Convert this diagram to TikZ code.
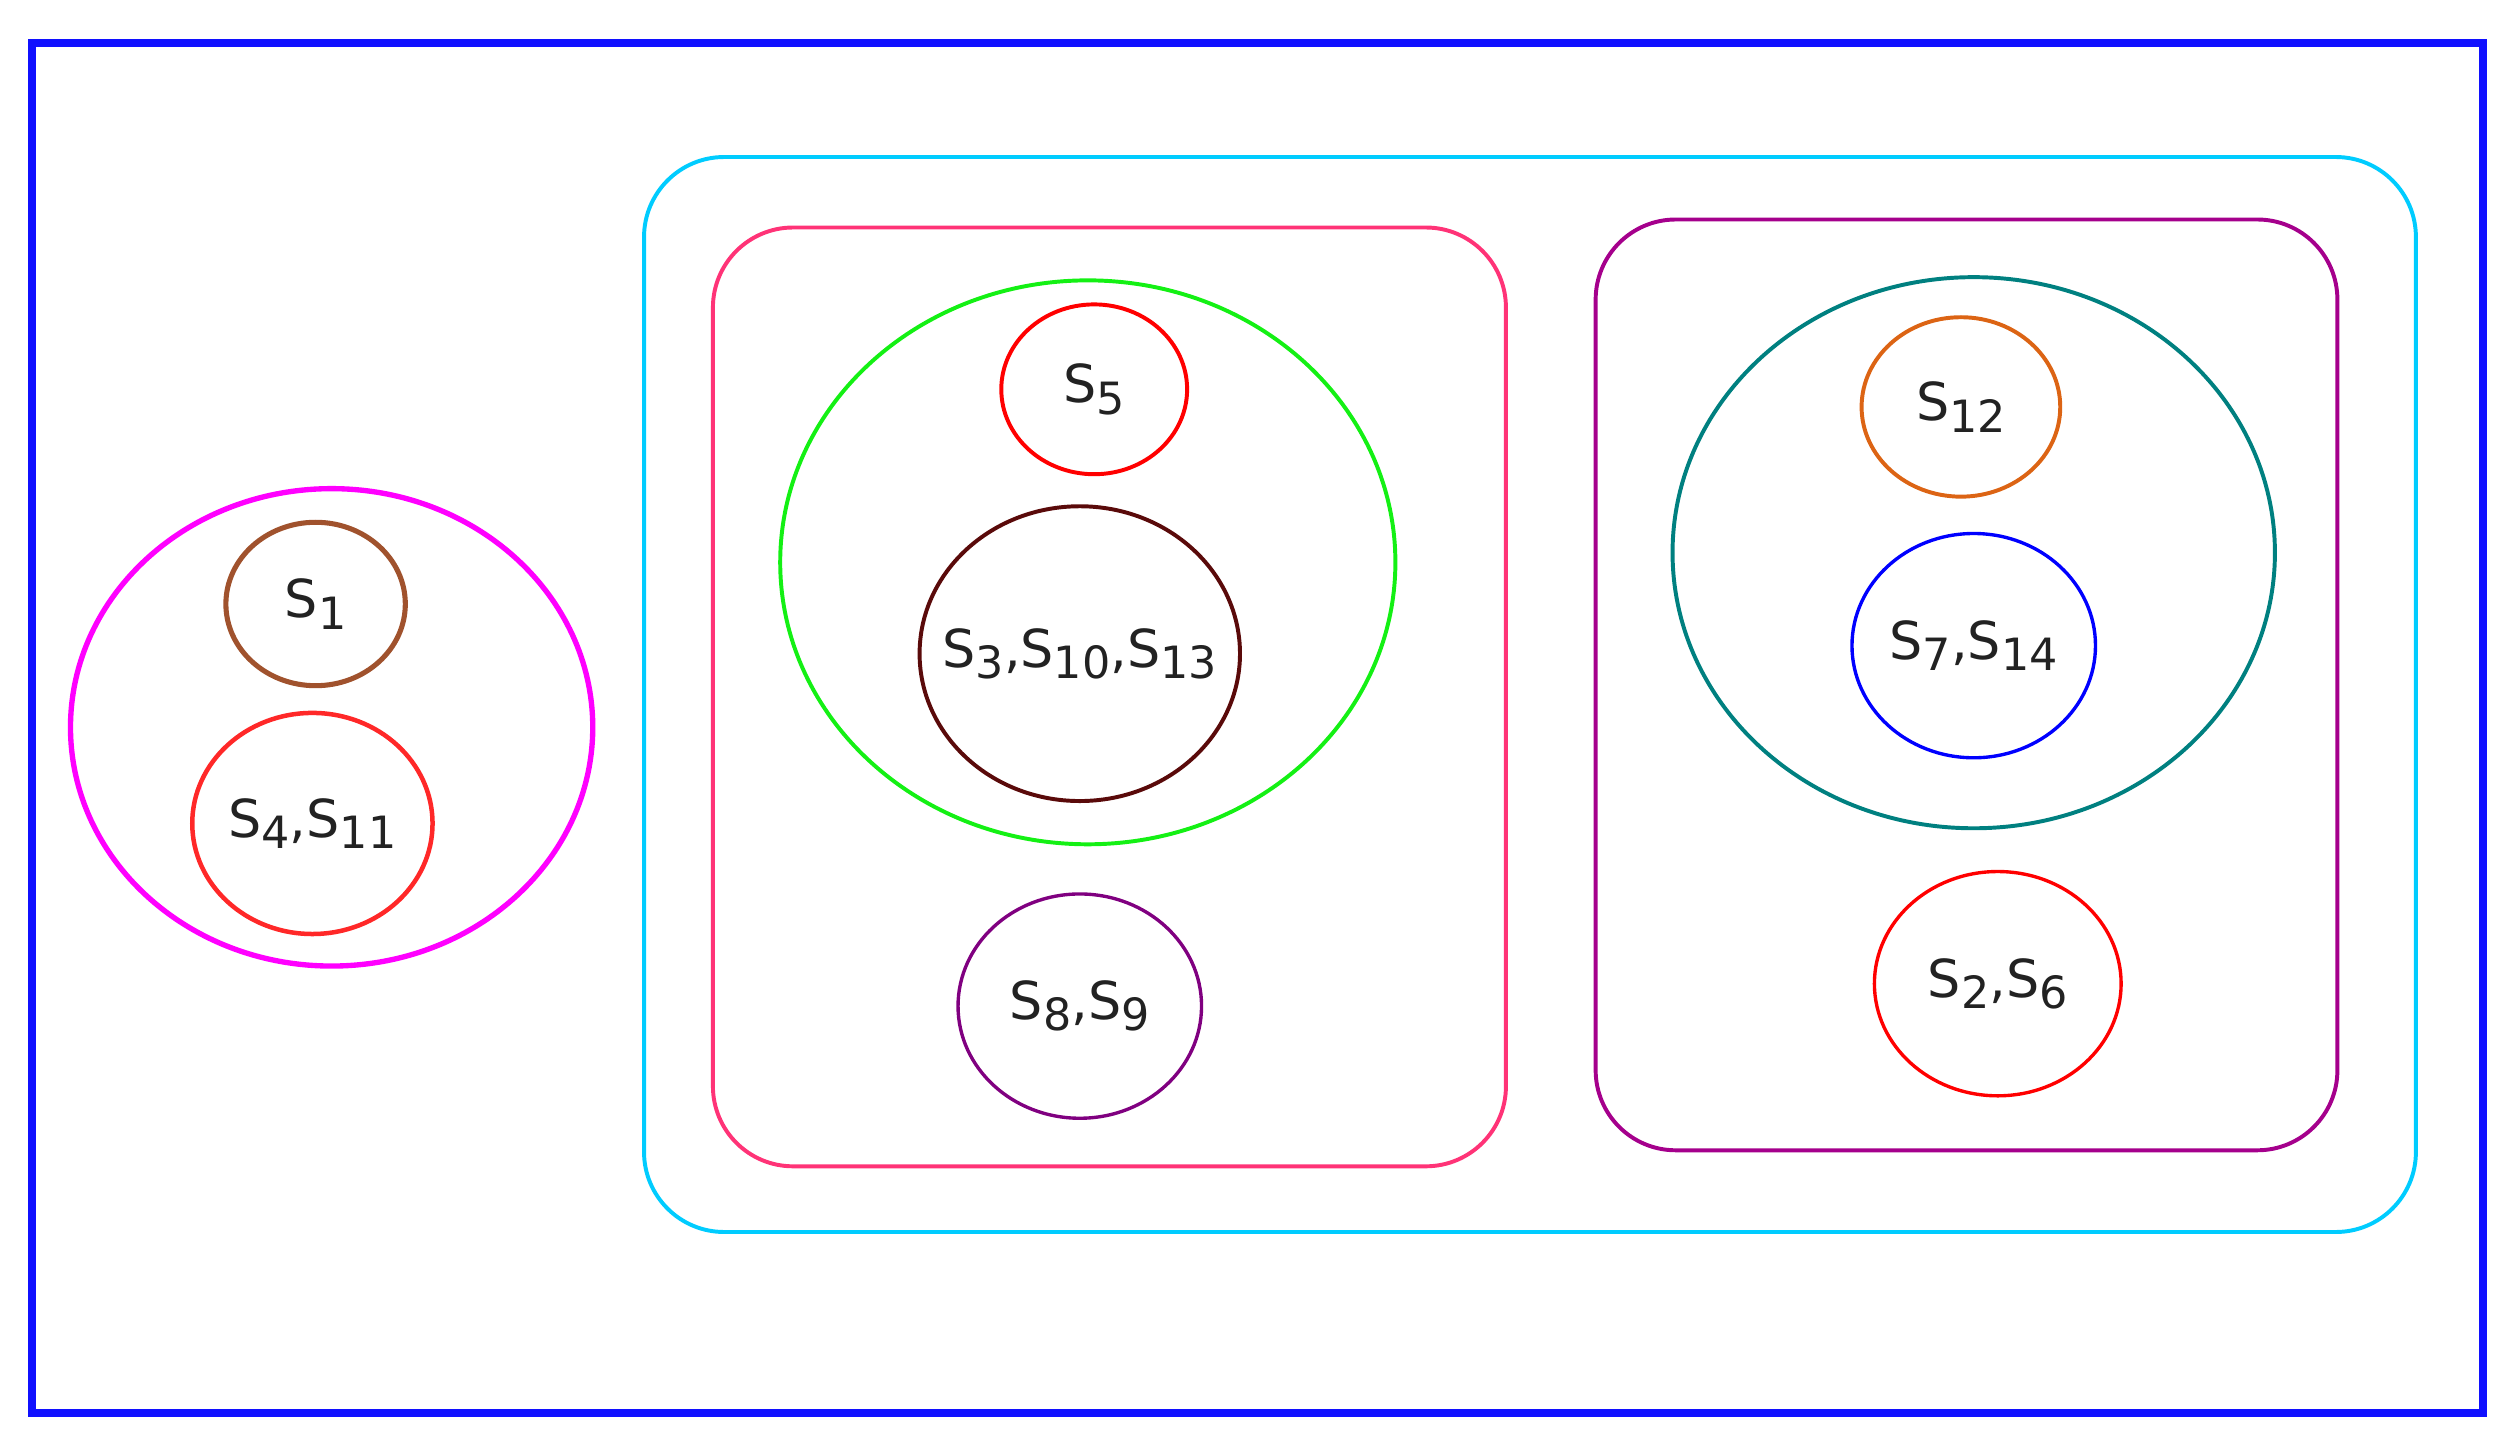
\documentclass[tikz,border=0pt]{standalone}
\usepackage{fontspec}
\setmainfont{DejaVu Sans}
\usetikzlibrary{shapes.geometric}

\definecolor{framblue}{RGB}{16,16,255}
\definecolor{boxcyan}{RGB}{0,204,255}
\definecolor{boxpink}{RGB}{255,51,119}
\definecolor{boxpurple}{RGB}{165,0,140}
\definecolor{setmagenta}{RGB}{255,0,255}
\definecolor{setbrown}{RGB}{160,82,45}
\definecolor{setred}{RGB}{255,40,40}
\definecolor{setgreen}{RGB}{20,240,20}
\definecolor{setmaroon}{RGB}{90,10,10}
\definecolor{setpurple}{RGB}{128,0,128}
\definecolor{setteal}{RGB}{0,128,128}
\definecolor{setorange}{RGB}{220,100,20}
\definecolor{labelgray}{RGB}{34,34,34}

\newcommand{\idx}[1]{\raisebox{-0.4ex}{\fontsize{7.9}{8}\selectfont #1}}

\tikzset{
  setnode/.style={draw,ellipse,inner sep=0pt,line width=0.7pt,
    text=labelgray,font=\fontsize{9.3}{11}\selectfont},
  groupbox/.style={draw,rectangle,rounded corners=0.5cm,inner sep=0pt,line width=0.7pt}
}

\begin{document}
\begin{tikzpicture}
		\useasboundingbox (0,0) rectangle (15.68,9.05);
		\draw [framblue,line width=1.4pt] (0.20,0.23) rectangle (15.50,8.78);
		% groups
		\node [groupbox,draw=boxcyan,minimum width=11.06cm,minimum height=6.71cm] (outer) at (9.55,4.715) {};
		\node [groupbox,draw=boxpink,minimum width=4.95cm,minimum height=5.86cm] (leftbox) at (6.925,4.70) {};
		\node [groupbox,draw=boxpurple,minimum width=4.63cm,minimum height=5.81cm] (rightbox) at (12.275,4.775) {};
		% left set
		\node [setnode,draw=setmagenta,line width=0.95pt,minimum width=3.26cm,minimum height=2.98cm] (pink) at (2.07,4.51) {};
		\node [setnode,draw=setbrown,line width=0.9pt,minimum width=1.12cm,minimum height=1.02cm] (s1) at (1.97,5.28) {S\idx{1}};
		\node [setnode,draw=setred,line width=0.8pt,minimum width=1.50cm,minimum height=1.38cm] (s4) at (1.95,3.91) {S\idx{4},S\idx{11}};
		% middle sets
		\node [setnode,draw=setgreen,minimum width=3.84cm,minimum height=3.52cm] (green) at (6.79,5.54) {};
		\node [setnode,draw=red,minimum width=1.16cm,minimum height=1.06cm] (s5) at (6.83,6.62) {S\idx{5}};
		\node [setnode,draw=setmaroon,inner xsep=-0.2cm,minimum width=2.00cm,minimum height=1.84cm] (s3) at (6.74,4.97) {S\idx{3},S\idx{10},S\idx{13}};
		\node [setnode,draw=setpurple,line width=0.6pt,minimum width=1.52cm,minimum height=1.40cm] (s8) at (6.74,2.77) {S\idx{8},S\idx{9}};
		% right sets
		\node [setnode,draw=setteal,minimum width=3.76cm,minimum height=3.44cm] (teal) at (12.32,5.60) {};
		\node [setnode,draw=setorange,minimum width=1.24cm,minimum height=1.12cm] (s12) at (12.24,6.51) {S\idx{12}};
		\node [setnode,draw=blue,line width=0.6pt,minimum width=1.52cm,minimum height=1.40cm] (s7) at (12.32,5.02) {S\idx{7},S\idx{14}};
		\node [setnode,draw=red,line width=0.6pt,minimum width=1.54cm,minimum height=1.40cm] (s2) at (12.47,2.91) {S\idx{2},S\idx{6}};
	\end{tikzpicture}
\end{document}
